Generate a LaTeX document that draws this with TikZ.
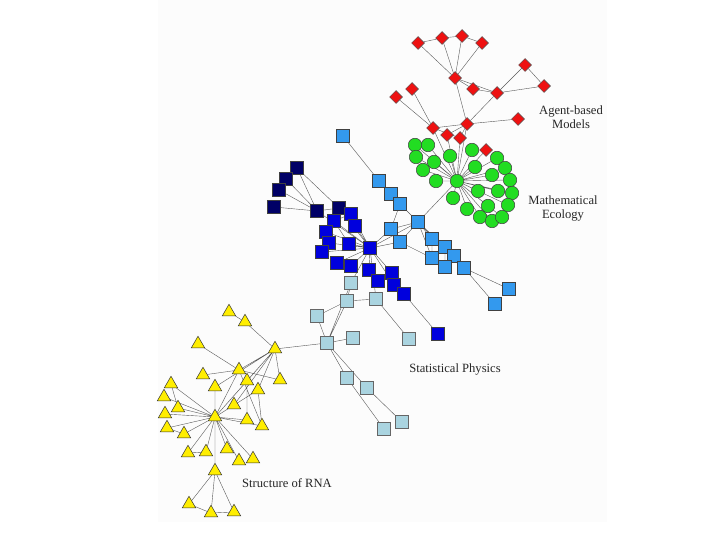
\documentclass[tikz,border=0pt]{standalone}
\usepackage{fontspec}
\setmainfont{Liberation Serif}
\usepackage{xcolor}
\usepackage{tikz}
\usetikzlibrary{positioning,backgrounds,shapes.geometric}

\definecolor{agentred}{HTML}{EE1111}
\definecolor{ecogreen}{HTML}{22DD22}
\definecolor{navyblue}{HTML}{000066}
\definecolor{deepblue}{HTML}{0000DD}
\definecolor{midblue}{HTML}{3399EE}
\definecolor{paleblue}{HTML}{AAD4E0}
\definecolor{rnayellow}{HTML}{FFEE00}

\begin{document}
\begin{tikzpicture}[x=1pt,y=-1pt,
  sq/.style={draw=black!75,minimum size=13pt,inner sep=0pt,line width=0.6pt},
  navysq/.style={sq,fill=navyblue},
  bluesq/.style={sq,fill=deepblue},
  midsq/.style={sq,fill=midblue},
  palesq/.style={sq,fill=paleblue,draw=black!60},
  dia/.style={diamond,draw=black!70,fill=agentred,minimum size=13pt,inner sep=0pt,line width=0.5pt},
  circ/.style={circle,draw=black!75,fill=ecogreen,minimum size=13.5pt,inner sep=0pt,line width=0.5pt},
  tri/.style={regular polygon,regular polygon sides=3,draw=black!80,fill=rnayellow,
              minimum size=15.5pt,inner sep=0pt,line width=0.5pt},
  lbl/.style={font=\fontsize{12.6}{14}\selectfont,text=black!85,align=center},
  link/.style={draw=black!65,line width=0.4pt}]

\useasboundingbox (0,0) rectangle (720,540);

% agent-based models
\node[dia] (r1)  at (418,43)  {};
\node[dia] (r2)  at (442,38)  {};
\node[dia] (r3)  at (462,36)  {};
\node[dia] (r4)  at (482,43)  {};
\node[dia] (r5)  at (455,78)  {};
\node[dia] (r6)  at (525,65)  {};
\node[dia] (r7)  at (544,86)  {};
\node[dia] (r8)  at (473,89)  {};
\node[dia] (r9)  at (497,93)  {};
\node[dia] (r10) at (396,97)  {};
\node[dia] (r11) at (412,89)  {};
\node[dia] (r12) at (467,124) {};
\node[dia] (r13) at (518,119) {};
\node[dia] (r14) at (433,128) {};
\node[dia] (r15) at (447,135) {};
\node[dia] (r16) at (460,138) {};
\node[dia] (r17) at (486,150) {};

% mathematical ecology
\node[circ] (g0)  at (457,181) {};
\node[circ] (g1)  at (415,145) {};
\node[circ] (g2)  at (428,145) {};
\node[circ] (g3)  at (416,157) {};
\node[circ] (g4)  at (434,162) {};
\node[circ] (g5)  at (450,156) {};
\node[circ] (g6)  at (423,170) {};
\node[circ] (g7)  at (436,181) {};
\node[circ] (g8)  at (472,150) {};
\node[circ] (g9)  at (475,167) {};
\node[circ] (g10) at (497,158) {};
\node[circ] (g11) at (505,168) {};
\node[circ] (g12) at (492,175) {};
\node[circ] (g13) at (510,180) {};
\node[circ] (g14) at (498,191) {};
\node[circ] (g15) at (478,191) {};
\node[circ] (g16) at (512,193) {};
\node[circ] (g17) at (453,198) {};
\node[circ] (g18) at (467,209) {};
\node[circ] (g19) at (488,206) {};
\node[circ] (g20) at (508,205) {};
\node[circ] (g21) at (480,217) {};
\node[circ] (g22) at (492,221) {};
\node[circ] (g23) at (502,217) {};

% dark blue group
\node[navysq] (n1) at (297,168) {};
\node[navysq] (n2) at (286,179) {};
\node[navysq] (n3) at (279,190) {};
\node[navysq] (n4) at (274,207) {};
\node[navysq] (n5) at (317,211) {};
\node[navysq] (n6) at (339,208) {};

% blue group
\node[bluesq] (b0)  at (370,248) {};
\node[bluesq] (b1)  at (351,214) {};
\node[bluesq] (b2)  at (355,226) {};
\node[bluesq] (b3)  at (334,221) {};
\node[bluesq] (b4)  at (326,232) {};
\node[bluesq] (b5)  at (329,243) {};
\node[bluesq] (b6)  at (322,252) {};
\node[bluesq] (b7)  at (349,244) {};
\node[bluesq] (b8)  at (337,263) {};
\node[bluesq] (b9)  at (351,266) {};
\node[bluesq] (b10) at (369,270) {};
\node[bluesq] (b11) at (378,281) {};
\node[bluesq] (b12) at (392,273) {};
\node[bluesq] (b13) at (394,285) {};
\node[bluesq] (b14) at (404,294) {};
\node[bluesq] (b15) at (438,334) {};

% mid blue group
\node[midsq] (m0)  at (418,222) {};
\node[midsq] (m1)  at (343,136) {};
\node[midsq] (m2)  at (379,181) {};
\node[midsq] (m3)  at (391,194) {};
\node[midsq] (m4)  at (400,204) {};
\node[midsq] (m5)  at (391,229) {};
\node[midsq] (m6)  at (400,242) {};
\node[midsq] (m7)  at (432,239) {};
\node[midsq] (m8)  at (445,247) {};
\node[midsq] (m9)  at (454,256) {};
\node[midsq] (m10) at (432,258) {};
\node[midsq] (m11) at (445,267) {};
\node[midsq] (m12) at (464,268) {};
\node[midsq] (m13) at (509,289) {};
\node[midsq] (m14) at (495,304) {};

% statistical physics
\node[palesq] (l0)  at (327,343) {};
\node[palesq] (l1)  at (351,283) {};
\node[palesq] (l2)  at (347,301) {};
\node[palesq] (l3)  at (376,299) {};
\node[palesq] (l4)  at (317,316) {};
\node[palesq] (l5)  at (353,338) {};
\node[palesq] (l6)  at (409,339) {};
\node[palesq] (l7)  at (347,378) {};
\node[palesq] (l8)  at (367,388) {};
\node[palesq] (l9)  at (402,422) {};
\node[palesq] (l10) at (384,429) {};

% structure of RNA
\node[tri] (y1)  at (275,349) {};
\node[tri] (y2)  at (215,417) {};
\node[tri] (y3)  at (229,312) {};
\node[tri] (y4)  at (245,322) {};
\node[tri] (y5)  at (198,344) {};
\node[tri] (y6)  at (239,370) {};
\node[tri] (y7)  at (203,375) {};
\node[tri] (y8)  at (247,381) {};
\node[tri] (y9)  at (280,380) {};
\node[tri] (y10) at (215,387) {};
\node[tri] (y11) at (258,390) {};
\node[tri] (y12) at (171,384) {};
\node[tri] (y13) at (164,397) {};
\node[tri] (y14) at (178,408) {};
\node[tri] (y15) at (165,414) {};
\node[tri] (y16) at (234,405) {};
\node[tri] (y17) at (247,420) {};
\node[tri] (y18) at (262,426) {};
\node[tri] (y19) at (167,428) {};
\node[tri] (y20) at (184,434) {};
\node[tri] (y21) at (188,453) {};
\node[tri] (y22) at (206,452) {};
\node[tri] (y23) at (227,449) {};
\node[tri] (y24) at (239,461) {};
\node[tri] (y25) at (253,459) {};
\node[tri] (y26) at (215,471) {};
\node[tri] (y27) at (189,504) {};
\node[tri] (y28) at (211,513) {};
\node[tri] (y29) at (234,512) {};

% labels
\node[lbl] (agent) at (571,117) {Agent-based\\Models};
\node[lbl] (eco)   at (563,208) {Mathematical\\Ecology};
\node[lbl] (phys)  at (455,369) {Statistical Physics};
\node[lbl] (rna)   at (287,483) {Structure of RNA};

\begin{scope}[on background layer]
\fill[black!1] (158,0) rectangle (607,522);

\path[link] (r1) -- (r2) (r2) -- (r3) (r3) -- (r4)
  (r1) -- (r5) (r2) -- (r5) (r3) -- (r5) (r4) -- (r5)
  (r5) -- (r8) (r5) -- (r9) (r8) -- (r9) (r9) -- (r6) (r6) -- (r7) (r9) -- (r7)
  (r5) -- (r12) (r9) -- (r12) (r12) -- (r13) (r10) -- (r14) (r11) -- (r14)
  (r14) -- (r12) (r12) -- (r15) (r12) -- (r16) (r14) -- (r16)
  (r14) -- (g0) (r12) -- (g0) (r15) -- (g0) (r16) -- (g0) (r17) -- (g0);

\path[link] (g0) -- (g1) (g0) -- (g2) (g0) -- (g3) (g0) -- (g4) (g0) -- (g5)
  (g0) -- (g6) (g0) -- (g7) (g0) -- (g8) (g0) -- (g9) (g0) -- (g10)
  (g0) -- (g11) (g0) -- (g12) (g0) -- (g13) (g0) -- (g14) (g0) -- (g15)
  (g0) -- (g16) (g0) -- (g17) (g0) -- (g18) (g0) -- (g19) (g0) -- (g20)
  (g0) -- (g21) (g0) -- (g22) (g0) -- (g23) (g0) -- (m0);

\path[link] (n1) -- (n5) (n2) -- (n5) (n3) -- (n5) (n4) -- (n5) (n5) -- (n6)
  (n6) -- (b0) (n5) -- (b0) (n1) -- (n6);

\path[link] (b0) -- (b1) (b0) -- (b2) (b0) -- (b3) (b0) -- (b4) (b0) -- (b5)
  (b0) -- (b6) (b0) -- (b7) (b0) -- (b8) (b0) -- (b9) (b0) -- (b10)
  (b10) -- (b11) (b0) -- (b12) (b0) -- (b13) (b12) -- (b13) (b13) -- (b14)
  (b14) -- (b15) (b1) -- (b3) (b3) -- (b7);

\path[link] (m1) -- (m2) (m2) -- (m3) (m3) -- (m4) (m4) -- (m0) (m4) -- (m5)
  (m0) -- (m5) (m0) -- (m6) (m0) -- (b0) (m5) -- (b0) (m6) -- (b0)
  (m0) -- (m7) (m0) -- (m8) (m0) -- (m9) (m7) -- (m10) (m8) -- (m11)
  (m0) -- (m10) (m0) -- (m12) (m12) -- (m13) (m12) -- (m14) (m6) -- (m10);

\path[link] (l1) -- (b0) (l2) -- (l1) (l2) -- (l3) (l2) -- (l4) (l2) -- (l0)
  (l1) -- (l0) (l4) -- (l0) (l0) -- (l5) (l3) -- (l6) (l3) -- (b0)
  (l0) -- (l7) (l0) -- (l8) (l8) -- (l9) (l7) -- (l10) (l0) -- (y1);

\path[link] (y3) -- (y4) (y4) -- (y1) (y1) -- (y6) (y1) -- (y8) (y1) -- (y9)
  (y1) -- (y10) (y1) -- (y11) (y1) -- (y16) (y1) -- (y2) (y5) -- (y6)
  (y6) -- (y7) (y6) -- (y9) (y6) -- (y2) (y8) -- (y17) (y11) -- (y18)
  (y2) -- (y12) (y2) -- (y13) (y2) -- (y14) (y2) -- (y15) (y2) -- (y19)
  (y2) -- (y20) (y2) -- (y10) (y2) -- (y16) (y2) -- (y8) (y2) -- (y11)
  (y2) -- (y21) (y2) -- (y22) (y2) -- (y23) (y2) -- (y24) (y2) -- (y25)
  (y2) -- (y26) (y2) -- (y17) (y2) -- (y18) (y12) -- (y14) (y19) -- (y20)
  (y21) -- (y22) (y26) -- (y27) (y26) -- (y28) (y26) -- (y29)
  (y27) -- (y28) (y28) -- (y29) (y6) -- (y18);
\end{scope}
\end{tikzpicture}
\end{document}
